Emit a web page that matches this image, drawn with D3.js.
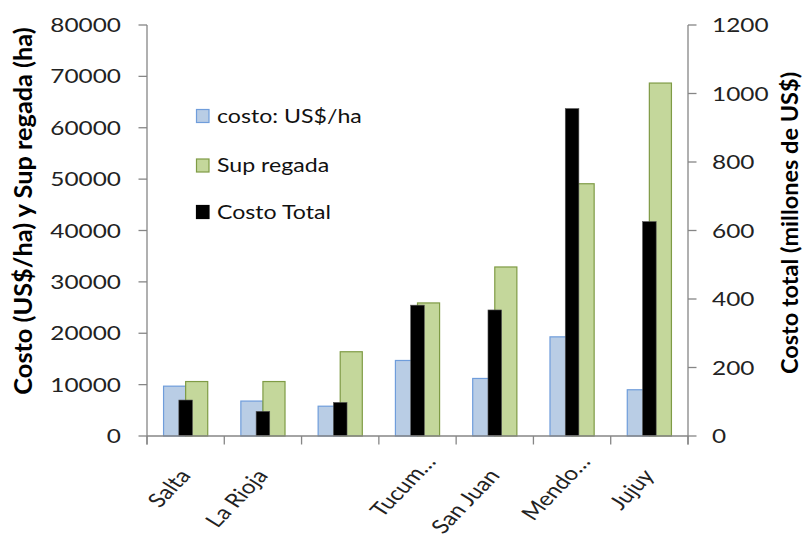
<!DOCTYPE html>
<html><head><meta charset="utf-8">
<script src="https://cdn.jsdelivr.net/npm/d3@7"></script>
<style>
body{margin:0;background:#fff}
svg{display:block}
text{font-family:Lato,"Open Sans",sans-serif;fill:#000}
</style>
</head><body>
<svg id="chart" width="805" height="540"></svg>
<script>
// ---- data ----
const categories = ["Salta", "La Rioja", "", "Tucum…", "San Juan", "Mendo…", "Jujuy"];
const costoHa    = [9700, 6800, 5800, 14700, 11200, 19300, 9000];      // US$/ha (left axis)
const supRegada  = [10600, 10600, 16400, 25900, 32900, 49100, 68700];  // ha (left axis)
const costoTotal = [105, 72, 98, 382, 368, 956, 626];                  // millones US$ (right axis)
const leftTicks  = [0, 10000, 20000, 30000, 40000, 50000, 60000, 70000, 80000];
const rightTicks = [0, 200, 400, 600, 800, 1000, 1200];
const seriesNames = ["costo: US$/ha", "Sup regada", "Costo Total"];
const leftTitle  = "Costo (US$/ha) y Sup regada (ha)";
const rightTitle = "Costo total (millones de US$)";

// ---- layout ----
const L = 147, R = 688, T = 25, B = 436;
const SX = 1.25;           // horizontal text stretch of the original
const FS = 18.5;           // legend font size
const FT = 19.5;           // tick label font size
const FC = 19.5;           // category label font size
const axisColor = "#868686";
const colors = {
  blueFill: "#b9cde5", blueStroke: "#6f9ddb",
  greenFill: "#c4d79b", greenStroke: "#7f9b45",
  black: "#000"
};

const svg = d3.select("#chart");

const x = d3.scaleBand().domain(d3.range(categories.length)).range([L, R]).padding(0);
const xInner = d3.scaleBand().domain([0, 1]).range([0, x.bandwidth()]).paddingInner(0).paddingOuter(0.75);
const xBlack = d3.scaleBand().domain([0]).range([0, x.bandwidth()]).paddingInner(0).paddingOuter(2.34);
const yL = d3.scaleLinear().domain([0, 80000]).range([B, T]);
const yR = d3.scaleLinear().domain([0, 1200]).range([B, T]);

// ---- bars ----
const idx = d3.range(categories.length);
const gBars = svg.append("g");
gBars.selectAll("rect.blue").data(idx).join("rect")
  .attr("x", i => x(i) + xInner(0))
  .attr("y", i => yL(costoHa[i]))
  .attr("width", xInner.bandwidth())
  .attr("height", i => B - yL(costoHa[i]))
  .attr("fill", colors.blueFill).attr("stroke", colors.blueStroke).attr("stroke-width", 1.2);
gBars.selectAll("rect.green").data(idx).join("rect")
  .attr("x", i => x(i) + xInner(1))
  .attr("y", i => yL(supRegada[i]))
  .attr("width", xInner.bandwidth())
  .attr("height", i => B - yL(supRegada[i]))
  .attr("fill", colors.greenFill).attr("stroke", colors.greenStroke).attr("stroke-width", 1.2);
gBars.selectAll("rect.black").data(idx).join("rect")
  .attr("x", i => x(i) + xBlack(0))
  .attr("y", i => yR(costoTotal[i]))
  .attr("width", xBlack.bandwidth())
  .attr("height", i => B - yR(costoTotal[i]))
  .attr("fill", colors.black).attr("stroke", "#555").attr("stroke-width", 0.6);

// ---- axes ----
const gAx = svg.append("g").attr("stroke", axisColor).attr("stroke-width", 1.3).attr("fill", "none");
const TK = 8.5;
gAx.append("line").attr("x1", L).attr("x2", L).attr("y1", T).attr("y2", B + TK);
leftTicks.forEach(v => gAx.append("line").attr("x1", L - TK).attr("x2", L).attr("y1", yL(v)).attr("y2", yL(v)));
gAx.append("line").attr("x1", R).attr("x2", R).attr("y1", T).attr("y2", B + TK);
rightTicks.forEach(v => gAx.append("line").attr("x1", R).attr("x2", R + TK).attr("y1", yR(v)).attr("y2", yR(v)));
gAx.append("line").attr("x1", L).attr("x2", R).attr("y1", B).attr("y2", B);
d3.range(categories.length + 1).forEach(i => {
  const xx = i < categories.length ? x(i) : R;
  gAx.append("line").attr("x1", xx).attr("x2", xx).attr("y1", B).attr("y2", B + TK);
});

// ---- tick labels ----
const fmt = d3.format("d");
svg.append("g").selectAll("text").data(leftTicks).join("text")
  .attr("transform", v => `translate(121,${yL(v)}) scale(${SX},1)`)
  .attr("text-anchor", "end").attr("dy", "0.36em")
  .style("font-size", FT + "px").style("fill", "#222")
  .text(fmt);
svg.append("g").selectAll("text").data(rightTicks).join("text")
  .attr("transform", v => `translate(712,${yR(v)}) scale(${SX},1)`)
  .attr("text-anchor", "start").attr("dy", "0.36em")
  .style("font-size", FT + "px").style("fill", "#222")
  .text(fmt);

// category labels
svg.append("g").selectAll("text").data(idx).join("text")
  .attr("transform", i => {
    const cx = x(i) + x.bandwidth() / 2 + 6;
    return `translate(${cx},476) scale(${SX},1) rotate(-52)`;
  })
  .attr("text-anchor", "end")
  .attr("dx", i => categories[i].endsWith("…") ? "0.9em" : "0")
  .style("font-size", FC + "px").style("fill", "#222")
  .text(i => categories[i]);

// axis titles
svg.append("text")
  .attr("transform", `translate(32,211) rotate(-90)`)
  .attr("text-anchor", "middle")
  .style("font-size", "25.3px").style("font-weight", "bold")
  .text(leftTitle);
svg.append("text")
  .attr("transform", `translate(798,223) rotate(-90)`)
  .attr("text-anchor", "middle")
  .style("font-size", "23.5px").style("font-weight", "bold")
  .text(rightTitle);

// ---- legend ----
const legendFill = [colors.blueFill, colors.greenFill, colors.black];
const legendStroke = [colors.blueStroke, colors.greenStroke, colors.black];
const legendY = [116, 165.5, 212];
const gLeg = svg.append("g");
seriesNames.forEach((name, k) => {
  gLeg.append("rect").attr("x", 196.5).attr("y", legendY[k] - 6.5).attr("width", 12.5).attr("height", 13)
    .attr("fill", legendFill[k]).attr("stroke", legendStroke[k]).attr("stroke-width", 1.2);
  gLeg.append("text")
    .attr("transform", `translate(217,${legendY[k]}) scale(${SX},1)`)
    .attr("dy", "0.36em")
    .style("font-size", FS + "px").style("fill", "#111")
    .text(name);
});
</script>
</body></html>
